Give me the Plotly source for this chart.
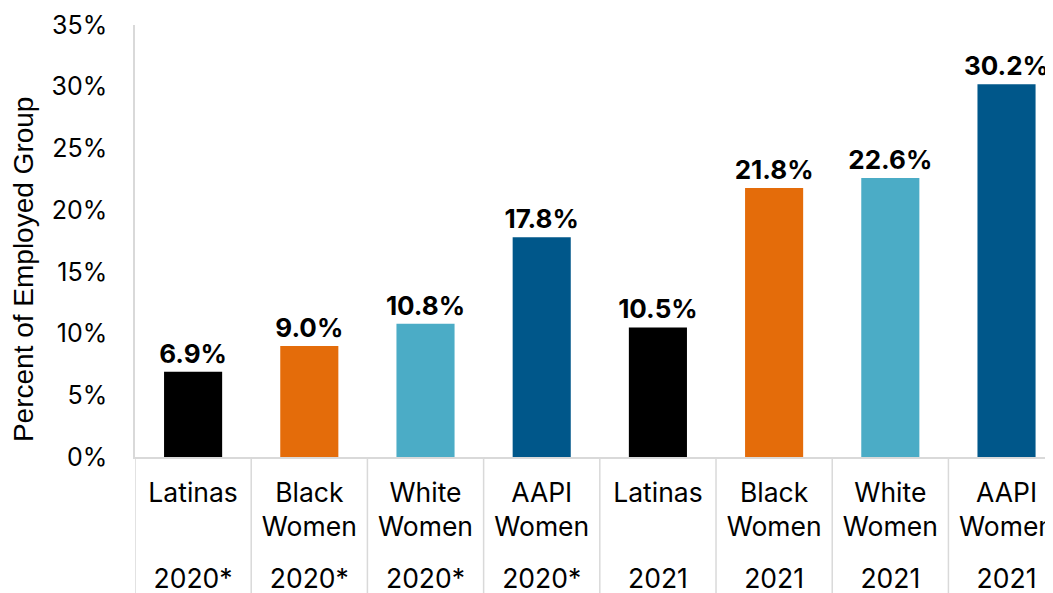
import plotly.graph_objects as go

groups = ["Latinas", "Black<br>Women", "White<br>Women", "AAPI<br>Women",
          "Latinas", "Black<br>Women", "White<br>Women", "AAPI<br>Women"]
years = ["2020*", "2020*", "2020*", "2020*", "2021", "2021", "2021", "2021"]
values = [6.9, 9.0, 10.8, 17.8, 10.5, 21.8, 22.6, 30.2]
colors = ["#000000", "#E46C0A", "#4BACC6", "#00578A",
          "#000000", "#E46C0A", "#4BACC6", "#00578A"]
yticks = [0, 5, 10, 15, 20, 25, 30, 35]
y_title = "Percent of Employed Group"

pos = list(range(len(values)))
FONT = "Inter"
TITLE_FONT = "Liberation Sans"

fig = go.Figure()
fig.add_trace(go.Bar(
    x=pos, y=values, width=0.5,
    marker=dict(color=colors, line=dict(width=0)),
    text=[f"<b>{v:.1f}%</b>" for v in values],
    textposition="outside", cliponaxis=False, constraintext="none",
    textfont=dict(family=FONT, size=26, color="#000000"),
    showlegend=False, hoverinfo="skip",
))
# invisible companion trace so the year axis is drawn
fig.add_trace(go.Scatter(
    x=pos, y=values, xaxis="x2", mode="none",
    showlegend=False, hoverinfo="skip",
))

for i in range(len(values)):
    fig.add_shape(type="line", xref="x", yref="paper",
                  x0=i - 0.5, x1=i - 0.5, y0=0, y1=-0.34,
                  line=dict(color="#D9D9D9", width=1.5))

fig.add_annotation(
    text=y_title, xref="paper", yref="paper", x=0, y=0.435,
    xanchor="center", yanchor="middle", xshift=-112, textangle=-90,
    showarrow=False, font=dict(family=TITLE_FONT, size=28, color="#000000"),
)

fig.update_layout(
    width=1053, height=593,
    margin=dict(l=127, r=8, t=17, b=144, autoexpand=False),
    paper_bgcolor="white", plot_bgcolor="white",
    font=dict(family=FONT, size=26, color="#000000"),
    xaxis=dict(
        range=[-0.5, 7.4], tickmode="array", tickvals=pos, ticktext=groups,
        showgrid=False, zeroline=False, showline=True, linecolor="#D9D9D9",
        linewidth=1.5, ticks="", ticklabelstandoff=11, automargin=False,
        tickfont=dict(family=FONT, size=26.5, color="#000000"),
    ),
    xaxis2=dict(
        range=[-0.5, 7.4], tickmode="array", tickvals=pos, ticktext=years,
        overlaying="x", side="bottom", showgrid=False, zeroline=False,
        showline=False, ticks="", ticklabelstandoff=103, automargin=False,
        tickfont=dict(family=FONT, size=26.5, color="#000000"),
    ),
    yaxis=dict(
        range=[0, 35], tickmode="array", tickvals=yticks,
        ticktext=[f"{t}%" for t in yticks], ticklabeloverflow="allow",
        showgrid=False, zeroline=False, showline=True, linecolor="#D9D9D9",
        linewidth=1.5, ticks="", ticklabelstandoff=21, automargin=False,
        tickfont=dict(family=FONT, size=25, color="#000000"),
    ),
)

fig.write_html("out.html")
